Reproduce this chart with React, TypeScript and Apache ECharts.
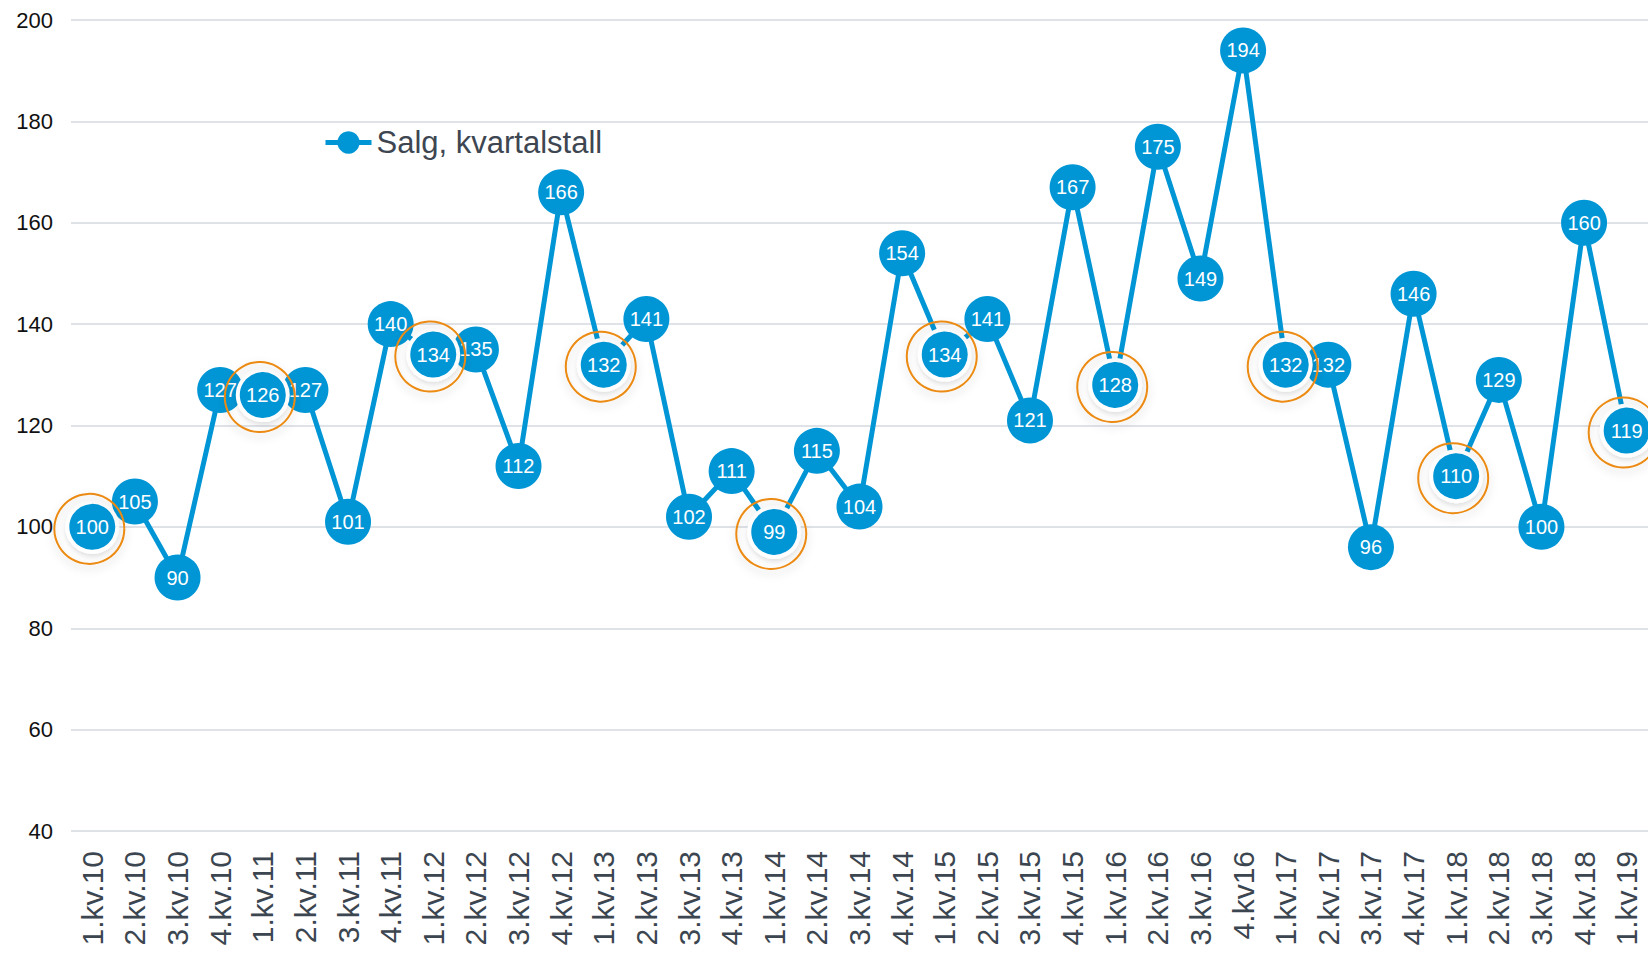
import React, { useEffect, useRef } from "react";
import * as echarts from "echarts";

const categories = [
  "1.kv.10", "2.kv.10", "3.kv.10", "4.kv.10",
  "1.kv.11", "2.kv.11", "3.kv.11", "4.kv.11",
  "1.kv.12", "2.kv.12", "3.kv.12", "4.kv.12",
  "1.kv.13", "2.kv.13", "3.kv.13", "4.kv.13",
  "1.kv.14", "2.kv.14", "3.kv.14", "4.kv.14",
  "1.kv.15", "2.kv.15", "3.kv.15", "4.kv.15",
  "1.kv.16", "2.kv.16", "3.kv.16", "4.kv16",
  "1.kv.17", "2.kv.17", "3.kv.17", "4.kv.17",
  "1.kv.18", "2.kv.18", "3.kv.18", "4.kv.18",
  "1.kv.19",
];

const sales = [
  100, 105, 90, 127,
  126, 127, 101, 140,
  134, 135, 112, 166,
  132, 141, 102, 111,
  99, 115, 104, 154,
  134, 141, 121, 167,
  128, 175, 149, 194,
  132, 132, 96, 146,
  110, 129, 100, 160,
  119,
];

const seriesName = "Salg, kvartalstall";
const yMin = 40;
const yMax = 200;
const yStep = 20;

const BLUE = "#0096D6";
const ORANGE = "#EC8A12";
const FONT = "'Liberation Sans', Arial, sans-serif";

const isFirstQuarter = (i: number) => categories[i].startsWith("1.");

export default function App() {
  const ref = useRef<HTMLDivElement>(null);

  useEffect(() => {
    if (!ref.current) return;
    const chart = echarts.init(ref.current, null, { renderer: "svg" });

    const highlight = sales.map((v, i) => (isFirstQuarter(i) ? v : "-"));

    const labelStyle = {
      show: true,
      position: "inside",
      color: "#ffffff",
      fontSize: 20,
      fontFamily: FONT,
      textShadowColor: "transparent",
      textShadowBlur: 0,
      textBorderWidth: 0,
    };

    chart.setOption({
      animation: false,
      backgroundColor: "#ffffff",
      textStyle: { fontFamily: FONT },
      grid: { left: 71, top: 20, width: 1580, height: 811, containLabel: false },
      legend: {
        data: [seriesName],
        left: 318,
        top: 122,
        padding: 5,
        itemWidth: 46,
        itemHeight: 28,
        lineStyle: { width: 5 },
        textStyle: { fontSize: 31, color: "#3d4651", fontFamily: FONT },
      },
      xAxis: {
        type: "category",
        data: categories,
        boundaryGap: true,
        axisLine: { show: false },
        axisTick: { show: false },
        axisLabel: {
          rotate: 90,
          interval: 0,
          margin: 20,
          fontSize: 30,
          color: "#3b4650",
          fontFamily: FONT,
        },
        splitLine: { show: false },
      },
      yAxis: {
        type: "value",
        min: yMin,
        max: yMax,
        interval: yStep,
        axisLine: { show: false },
        axisTick: { show: false },
        axisLabel: { fontSize: 22, color: "#111111", margin: 18, fontFamily: FONT },
        splitLine: { lineStyle: { color: "#dfe3e8", width: 2 } },
      },
      series: [
        {
          name: seriesName,
          type: "line",
          data: sales,
          symbol: "circle",
          symbolSize: 46,
          lineStyle: { color: BLUE, width: 5 },
          itemStyle: { color: BLUE, opacity: 1 },
          label: {
            ...labelStyle,
            formatter: (p: any) => (isFirstQuarter(p.dataIndex) ? "" : String(p.value)),
          },
          z: 2,
        },
        {
          name: "highlight",
          type: "scatter",
          data: highlight,
          symbol: "circle",
          symbolSize: 50,
          itemStyle: {
            color: BLUE,
            opacity: 1,
            borderColor: "#ffffff",
            borderWidth: 4,
            shadowBlur: 5,
            shadowColor: "rgba(0,0,0,0.12)",
            shadowOffsetY: 3,
          },
          label: {
            ...labelStyle,
            formatter: (p: any) => String(p.value),
          },
          z: 3,
        },
        {
          name: "ring",
          type: "scatter",
          data: highlight,
          symbol: "circle",
          symbolSize: 70,
          symbolOffset: [-3, 2],
          itemStyle: {
            color: "rgba(255,255,255,0)",
            opacity: 1,
            borderColor: ORANGE,
            borderWidth: 2,
            shadowBlur: 8,
            shadowColor: "rgba(0,0,0,0.18)",
            shadowOffsetY: 4,
          },
          silent: true,
          z: 4,
        },
      ],
    });

    return () => chart.dispose();
  }, []);

  return (
    <div
      ref={ref}
      style={{ position: "fixed", left: 0, top: 0, width: 1648, height: 958, background: "#fff" }}
    />
  );
}
